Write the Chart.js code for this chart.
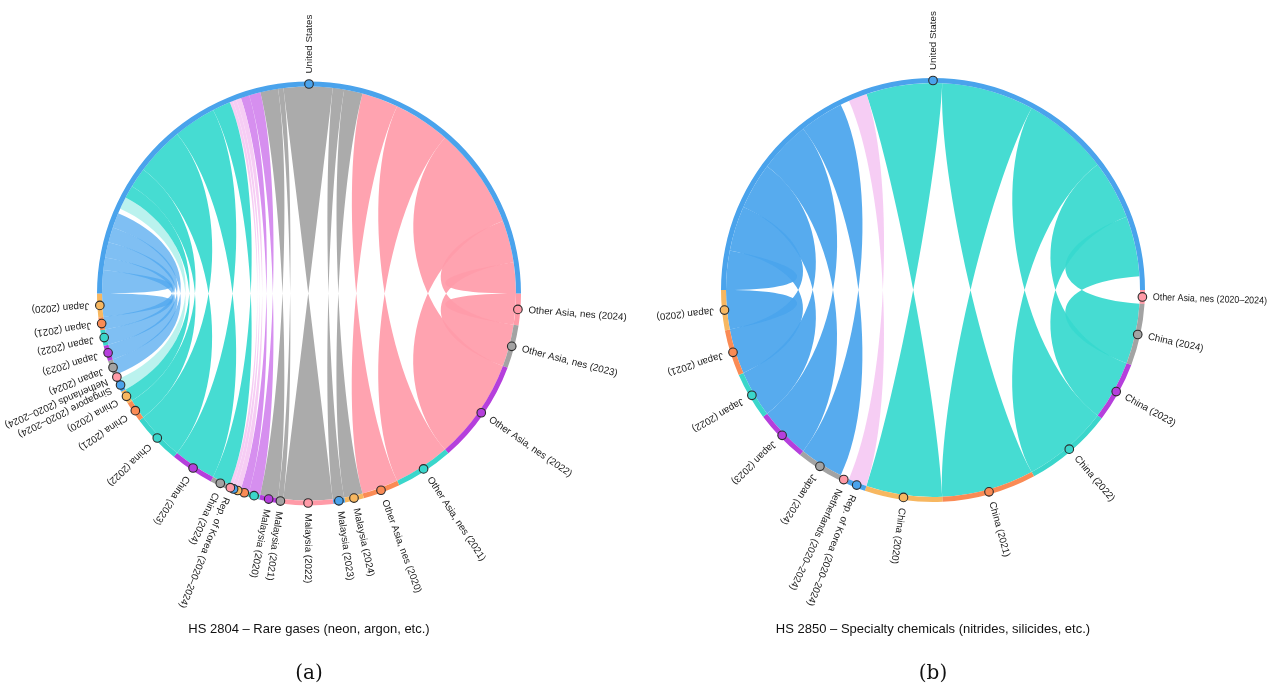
<!DOCTYPE html>
<html lang="en">
<head>
<meta charset="UTF-8">
<title>US imports – chord diagrams HS 2804 / HS 2850</title>
<script src="https://cdn.jsdelivr.net/npm/chart.js"></script>
<style>
  body { margin: 0; width: 1268px; height: 685px; background: #fff; position: relative; overflow: hidden;
         font-family: "Liberation Sans", Arial, sans-serif; }
  .panel { position: absolute; top: 0; width: 634px; height: 685px; }
  #panelA { left: 0; }
  #panelB { left: 634px; }
  .caption { position: absolute; width: 600px; text-align: center; top: 621px; font-size: 13px; color: #111; }
  .tag { position: absolute; width: 600px; text-align: center; top: 660px; font-size: 20px; color: #111;
         font-family: "DejaVu Serif", "Liberation Serif", serif; }
</style>
</head>
<body>
<div class="panel" id="panelA"><canvas id="chartA"></canvas></div>
<div class="panel" id="panelB"><canvas id="chartB"></canvas></div>
<div class="caption" style="left:9px">HS 2804 – Rare gases (neon, argon, etc.)</div>
<div class="caption" style="left:633px">HS 2850 – Specialty chemicals (nitrides, silicides, etc.)</div>
<div class="tag" style="left:9px">(a)</div>
<div class="tag" style="left:633px">(b)</div>

<script>
// Exporters listed counter-clockwise from the left edge of the circle.
// Every flow goes to the single importer, the United States (upper half).
// Values are relative flow sizes.

// (a) HS 2804
const partnersA = [
  'Japan (2020)', 'Japan (2021)', 'Japan (2022)', 'Japan (2023)', 'Japan (2024)',
  'Netherlands (2020–2024)', 'Singapore (2020–2024)',
  'China (2020)', 'China (2021)', 'China (2022)', 'China (2023)', 'China (2024)',
  'Rep. of Korea (2020–2024)', '', '', '', '',   // small unlabelled partners
  'Malaysia (2020)', 'Malaysia (2021)', 'Malaysia (2022)', 'Malaysia (2023)', 'Malaysia (2024)',
  'Other Asia, nes (2020)', 'Other Asia, nes (2021)', 'Other Asia, nes (2022)',
  'Other Asia, nes (2023)', 'Other Asia, nes (2024)'
];
const flowsA = [
  6.5, 3.5, 4.3, 4.3, 4.2,
  1.4, 3.4,
  3.6, 5.6, 13.6, 12.0, 5.1,
  0.9, 1.0, 1.4, 2.4, 3.2,
  5.0, 1.5, 13.7, 3.2, 5.2,
  10.2, 15.9, 28.4, 11.8, 8.7
];

// (b) HS 2850
const partnersB = [
  'Japan (2020)', 'Japan (2021)', 'Japan (2022)', 'Japan (2023)', 'Japan (2024)',
  'Netherlands (2020–2024)', 'Rep. of Korea (2020–2024)',
  'China (2020)', 'China (2021)', 'China (2022)', 'China (2023)', 'China (2024)',
  'Other Asia, nes (2020–2024)'
];
const flowsB = [
  11.0, 12.6, 13.1, 14.4, 12.4,
  2.5, 5.2,
  21.3, 25.9, 24.2, 16.6, 16.9,
  3.8
];

const importer = 'United States';

// styles
const nodePalette = ['#f7b760', '#fa8b55', '#3ad6cb', '#b53fdc', '#a3a3a3', '#ff9aa7', '#4aa3ec'];
const BLUE = 'rgba(74,165,237,0.93)', LBLUE = 'rgba(78,166,238,0.72)', TEAL = 'rgba(56,217,207,0.93)';
const GREY = 'rgba(166,166,166,0.95)', PINK = 'rgba(255,156,170,0.93)', NONE = 'rgba(255,255,255,0)';
const LPINK = 'rgba(245,196,242,0.85)', VIOLET = 'rgba(196,96,232,0.7)', LTEAL = 'rgba(56,217,207,0.35)';
const ribbonA = [LBLUE, LBLUE, LBLUE, LBLUE, LBLUE, NONE, LTEAL, TEAL, TEAL, TEAL, TEAL, TEAL,
  LPINK, LPINK, LPINK, VIOLET, VIOLET, GREY, GREY, GREY, GREY, GREY, PINK, PINK, PINK, PINK, PINK];
const ribbonB = [BLUE, BLUE, BLUE, BLUE, BLUE, NONE, LPINK, TEAL, TEAL, TEAL, TEAL, TEAL, NONE];

const CURVE = 0.55;   // bezier control point as fraction of radius

const chordPlugin = {
  id: 'chord',
  beforeDatasetsDraw(chart) {
    const opts = chart.options.plugins.chord;
    const arcs = chart.getDatasetMeta(0).data;
    const n = arcs.length - 1;              // last arc = importer
    const us = arcs[n];
    const cx = us.x, cy = us.y, r = us.innerRadius;
    const s0 = arcs[0].startAngle, s1 = arcs[n - 1].endAngle;
    const mirror = a => us.startAngle + (s1 - a) * (us.endAngle - us.startAngle) / (s1 - s0);
    const pt = (a, k) => [cx + r * k * Math.cos(a), cy + r * k * Math.sin(a)];
    const ctx = chart.ctx;
    ctx.save();
    for (let i = 0; i < n; i++) {
      const a = arcs[i].startAngle, b = arcs[i].endAngle;
      const ta = mirror(a), tb = mirror(b);
      ctx.beginPath();
      ctx.moveTo(...pt(a, 1));
      ctx.arc(cx, cy, r, a, b);
      ctx.bezierCurveTo(...pt(b, CURVE), ...pt(ta, CURVE), ...pt(ta, 1));
      ctx.arc(cx, cy, r, ta, tb, true);
      ctx.bezierCurveTo(...pt(tb, CURVE), ...pt(a, CURVE), ...pt(a, 1));
      ctx.closePath();
      ctx.fillStyle = opts.ribbons[i];
      ctx.fill();
    }
    ctx.restore();
  },
  afterDatasetsDraw(chart) {
    const arcs = chart.getDatasetMeta(0).data;
    const labels = chart.data.labels;
    const ctx = chart.ctx;
    ctx.save();
    arcs.forEach((arc, i) => {
      const mid = (arc.startAngle + arc.endAngle) / 2;
      const rm = (arc.innerRadius + arc.outerRadius) / 2;
      ctx.beginPath();
      ctx.arc(arc.x + rm * Math.cos(mid), arc.y + rm * Math.sin(mid), 4.3, 0, Math.PI * 2);
      ctx.fillStyle = arc.options.backgroundColor;
      ctx.fill();
      ctx.lineWidth = 1.1;
      ctx.strokeStyle = '#2b2b2b';
      ctx.stroke();
    });
    ctx.font = '9.8px "Liberation Sans", Arial, sans-serif';
    ctx.fillStyle = '#1a1a1a';
    ctx.textAlign = 'left';
    ctx.textBaseline = 'middle';
    arcs.forEach((arc, i) => {
      if (!labels[i]) return;
      const mid = (arc.startAngle + arc.endAngle) / 2;
      const rl = arc.outerRadius + 8;
      const x0 = arc.x + rl * Math.cos(mid), y0 = arc.y + rl * Math.sin(mid);
      // keep labels that run to the right edge inside the canvas
      const room = Math.cos(mid) > 0.3 ? (chart.width - 1 - x0) / Math.cos(mid) : undefined;
      ctx.save();
      ctx.translate(x0, y0);
      ctx.rotate(mid);
      if (room) ctx.fillText(labels[i], 0, 0, room); else ctx.fillText(labels[i], 0, 0);
      ctx.restore();
    });
    ctx.restore();
  }
};

function makeChord(id, partners, flows, ribbons, cx, cy) {
  const W = 634, H = 685, R = 212;
  const total = flows.reduce((s, v) => s + v, 0);
  // doughnut runs clockwise from 3 o'clock, so exporters are reversed
  const labels = partners.slice().reverse().concat([importer]);
  const values = flows.slice().reverse().concat([total]);
  const colors = partners.map((p, i) => nodePalette[i % 7]).reverse()
    .concat([nodePalette[partners.length % 7]]);
  return new Chart(document.getElementById(id), {
    type: 'doughnut',
    data: {
      labels: labels,
      datasets: [{ data: values, backgroundColor: colors, borderWidth: 0, hoverOffset: 0 }]
    },
    options: {
      responsive: true,
      maintainAspectRatio: false,
      animation: false,
      events: [],
      rotation: 90,
      radius: R,
      cutout: R - 5,
      layout: { padding: { left: cx - R, right: W - cx - R, top: cy - R, bottom: H - cy - R } },
      plugins: {
        legend: { display: false },
        tooltip: { enabled: false },
        chord: { ribbons: ribbons.slice().reverse() }
      }
    },
    plugins: [chordPlugin]
  });
}

makeChord('chartA', partnersA, flowsA, ribbonA, 309, 293.5);
makeChord('chartB', partnersB, flowsB, ribbonB, 299, 290);
</script>
</body>
</html>
